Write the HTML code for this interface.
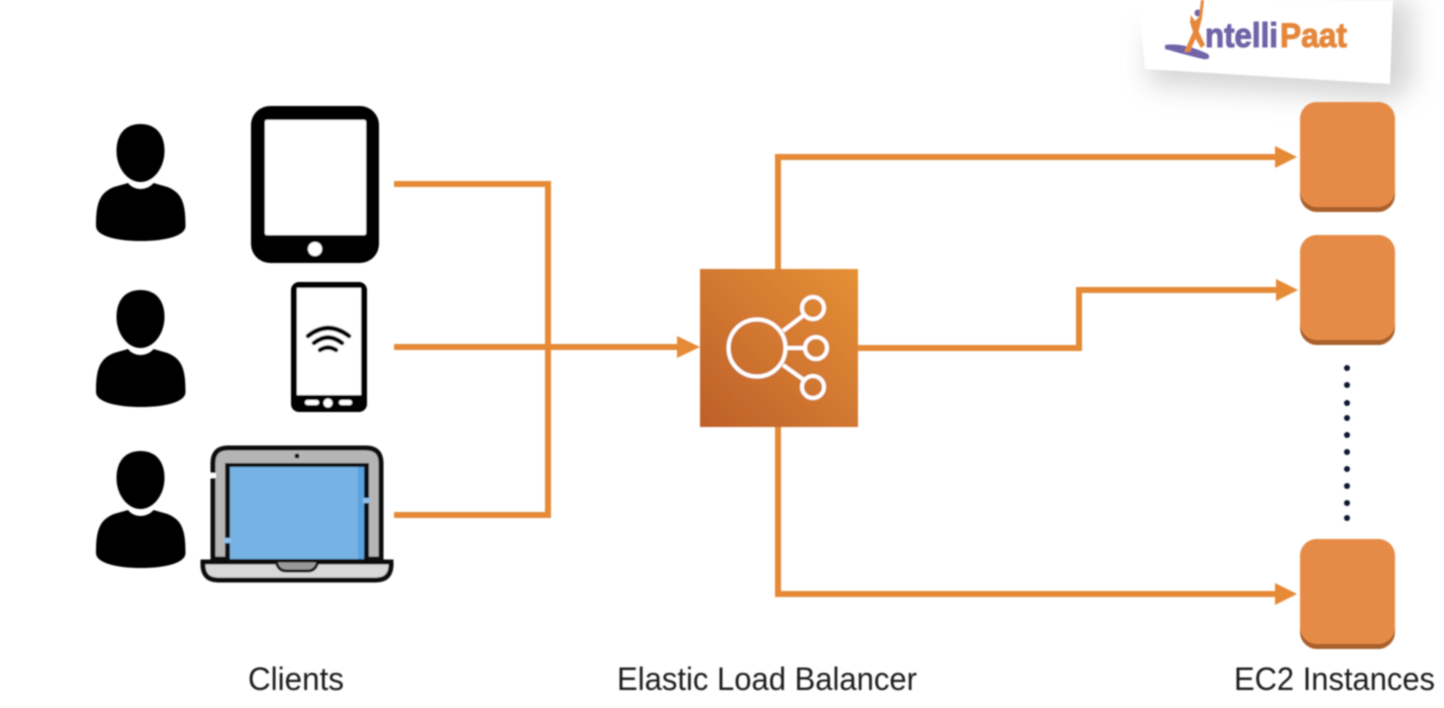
<!DOCTYPE html>
<html><head><meta charset="utf-8"><style>html,body{margin:0;padding:0;background:#fff;width:1444px;height:708px;overflow:hidden}svg{display:block}</style></head>
<body>
<svg width="1444" height="708" viewBox="0 0 1444 708" xmlns="http://www.w3.org/2000/svg">
<defs>
<linearGradient id="g" x1="0" y1="1" x2="1" y2="0"><stop offset="0" stop-color="#bd5f2a"/><stop offset="1" stop-color="#e69035"/></linearGradient>
<filter id="s" x="-20%" y="-50%" width="140%" height="220%"><feGaussianBlur stdDeviation="13"/></filter>
<filter id="b" x="-2%" y="-2%" width="104%" height="104%"><feGaussianBlur stdDeviation="0.8"/></filter>
<g id="p"><path d="M140.500 124c-15 0-24 10-24 27 0 17 11 31 24 31s24-14 24-31c0-17-9-27-24-27z"/><path d="M96 226c0-22 3-33 18-39l14-4c3 4 8 6 12.500 6s10-2 13-6l14 4c15 6 18 17 18 39 0 10-20 15-44.500 15S96 236 96 226z"/></g>
<g id="e"><rect x="1300" y="102" width="95" height="110" rx="17" fill="#a9602c"/><rect x="1300" y="102" width="95" height="105" rx="17" fill="#e68b47"/></g>
</defs>
<rect width="1444" height="708" fill="#fff"/>
<path d="M1150 30L1148 84L1392 100L1412 85L1412 0L1380 0Z" fill="#c4c4c4" opacity=".7" filter="url(#s)"/>
<path d="M1138 0L1145 69L1390 84L1393 0Z" fill="#fff" filter="url(#b)"/>
<g filter="url(#b)">
<path d="M1165 45C1178 43 1194 47 1208 54C1211 58 1208 60 1203 59C1190 56 1176 52 1165 49Z" fill="#6f64a8"/>
<circle cx="1198" cy="13" r="3.500" fill="#6f64a8"/>
<path d="M1204 0L1202 18L1199 30L1190 52L1184 52L1193 32L1190 22L1191 15L1195 21L1199 17L1201 0Z" fill="#e5873a"/>
<path d="M1198 30L1205 45L1201 48L1194 36Z" fill="#e5873a"/>
<text x="1205" y="47" font-family="Liberation Sans, sans-serif" font-weight="700" font-size="34" textLength="73" lengthAdjust="spacingAndGlyphs" fill="#6f64a8" stroke="#6f64a8" stroke-width="1">ntelli</text>
<text x="1280" y="47" font-family="Liberation Sans, sans-serif" font-weight="700" font-size="34" textLength="67" lengthAdjust="spacingAndGlyphs" fill="#e5873a" stroke="#e5873a" stroke-width="1">Paat</text>

<use href="#p"/><use href="#p" y="166"/><use href="#p" y="327"/>

<rect x="251" y="106" width="128" height="157" rx="19"/>
<rect x="265" y="120" width="101" height="115" rx="2" fill="#fff"/>
<circle cx="315" cy="249" r="7" fill="#fff"/>

<rect x="291" y="282" width="76" height="130" rx="8"/>
<rect x="297" y="288" width="64" height="107" fill="#fff"/>
<rect x="305" y="400" width="14" height="5" rx="2.500" fill="#fff"/><circle cx="328" cy="403" r="4.500" fill="#fff"/><rect x="339" y="400" width="13" height="5" rx="2.500" fill="#fff"/>
<g fill="none" stroke="#000" stroke-width="4.500" stroke-linecap="round"><path d="M308 336Q328 320 349 336"/><path d="M314 343Q328 332 342 343"/><path d="M320 350Q328 345 336 350"/></g>

<path d="M213 559V463Q213 448 228 448H366Q381 448 381 463V559Z" fill="#b5b5b5" stroke="#111" stroke-width="5"/>
<rect x="225" y="463" width="144" height="98" fill="#111"/>
<rect x="230" y="467" width="134" height="92" fill="#76b3e4"/>
<rect x="358" y="467" width="6" height="92" fill="#5aa2e0"/>
<circle cx="297" cy="456" r="2.500" fill="#111"/>
<path d="M203 562H391Q392 580 376 580H218Q202 580 203 562Z" fill="#d8d8d8" stroke="#111" stroke-width="5"/>
<path d="M276 561H318Q316 571 308 571H286Q278 571 276 561Z" fill="#999" stroke="#111" stroke-width="3"/>
<rect x="209" y="473" width="7" height="5" fill="#fff"/>
<rect x="224" y="538" width="7" height="5" fill="#8fc1ea"/>
<rect x="363" y="498" width="7" height="5" fill="#8fc1ea"/>

<g fill="none" stroke="#e68a35" stroke-width="6">
<path d="M394 184H548V515H394"/>
<path d="M394 347H682"/>
<path d="M778 269V157H1278"/>
<path d="M858 348H1079V290H1278"/>
<path d="M778 427V594H1278"/>
</g>
<g fill="#e68a35">
<path d="M677 336L700 347L677 358Z"/>
<path d="M1275 146L1297 157L1275 168Z"/>
<path d="M1276 279L1298 290L1276 301Z"/>
<path d="M1275 583L1297 594L1275 605Z"/>
</g>

<rect x="700" y="269" width="158" height="158" fill="url(#g)"/>
<g fill="none" stroke="#fff" stroke-width="4">
<circle cx="757" cy="348" r="28.500"/>
<circle cx="813" cy="308" r="11"/><circle cx="816" cy="348" r="11"/><circle cx="813" cy="387" r="11"/>
<path d="M783 331L804 315M786 348H805M783 365L804 380"/>
</g>

<use href="#e"/><use href="#e" y="133"/><use href="#e" y="437"/>
<g fill="#0b1630">
<circle cx="1347" cy="368" r="3"/><circle cx="1347" cy="385" r="3"/><circle cx="1347" cy="403" r="3"/><circle cx="1347" cy="418" r="3"/><circle cx="1347" cy="435" r="3"/><circle cx="1347" cy="452" r="3"/><circle cx="1347" cy="469" r="3"/><circle cx="1347" cy="486" r="3"/><circle cx="1347" cy="503" r="3"/><circle cx="1347" cy="518" r="3"/>
</g>

<g font-family="Liberation Sans, sans-serif" font-size="32" fill="#1a1a1a">
<text x="248" y="690" textLength="96" lengthAdjust="spacingAndGlyphs">Clients</text>
<text x="617" y="690" textLength="300" lengthAdjust="spacingAndGlyphs">Elastic Load Balancer</text>
<text x="1234" y="690" textLength="201" lengthAdjust="spacingAndGlyphs">EC2 Instances</text>
</g>
</g>
</svg>
</body></html>
